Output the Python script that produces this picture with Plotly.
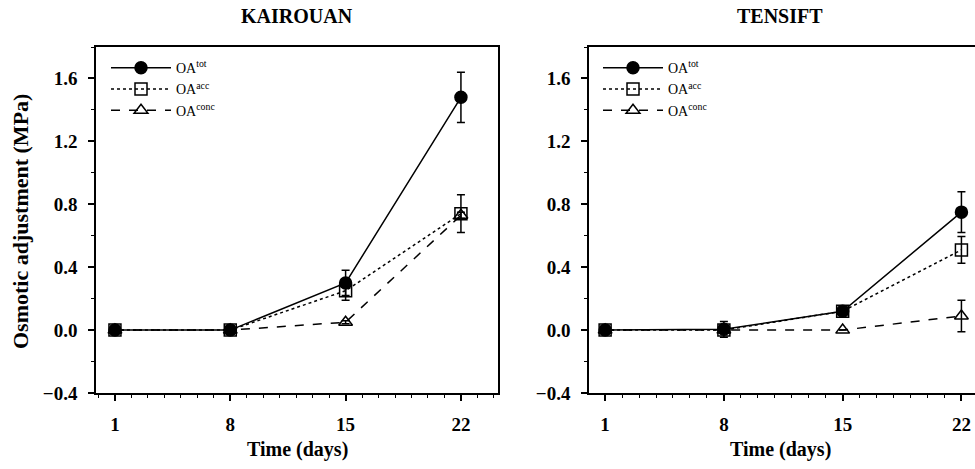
import plotly.graph_objects as go

days = [1, 8, 15, 22]
# KAIROUAN
k_tot = [0.0, 0.0, 0.30, 1.48]
k_tot_err = [0.0, 0.0, 0.08, 0.16]
k_acc = [0.0, 0.0, 0.25, 0.74]
k_acc_err = [0.0, 0.0, 0.06, 0.12]
k_conc = [0.0, 0.0, 0.05, 0.73]
k_conc_err = [0.0, 0.0, 0.01, 0.02]
# TENSIFT
t_tot = [0.0, 0.005, 0.12, 0.75]
t_tot_err = [0.0, 0.05, 0.01, 0.13]
t_acc = [0.0, 0.0, 0.12, 0.51]
t_acc_err = [0.0, 0.0, 0.0, 0.085]
t_conc = [0.0, 0.0, 0.0, 0.09]
t_conc_err = [0.0, 0.0, 0.0, 0.10]

panel_titles = ["KAIROUAN", "TENSIFT"]
series_names = ["OA<sup>tot</sup>", "OA<sup>acc</sup>", "OA<sup>conc</sup>"]
y_ticks = [-0.4, 0.0, 0.4, 0.8, 1.2, 1.6]

FONT = "Liberation Serif"
fig = go.Figure()

styles = [
    dict(dash="solid", symbol="circle", size=12),
    dict(dash="dot", symbol="square-open", size=12),
    dict(dash="dash", symbol="triangle-up-open", size=12),
]

panels = [
    ("x", "y", "legend", [(k_tot, k_tot_err), (k_acc, k_acc_err), (k_conc, k_conc_err)]),
    ("x2", "y2", "legend2", [(t_tot, t_tot_err), (t_acc, t_acc_err), (t_conc, t_conc_err)]),
]

for xa, ya, lg, data in panels:
    for (vals, errs), name, st in zip(data, series_names, styles):
        fig.add_trace(go.Scatter(
            x=days, y=vals, name=name, xaxis=xa, yaxis=ya, legend=lg,
            mode="lines+markers",
            line=dict(color="black", width=1.5, dash=st["dash"]),
            marker=dict(symbol=st["symbol"], size=st["size"], color="black",
                        line=dict(color="black", width=1.5)),
            error_y=dict(type="data", array=errs, color="black", thickness=1.5, width=4),
        ))

axis_common = dict(
    showline=True, linecolor="black", linewidth=1.5, showgrid=False, zeroline=False,
    ticks="outside", ticklen=6, tickwidth=1.5, tickcolor="black",
    tickfont=dict(family=FONT, size=19, color="black", weight="bold"),
)
minor_x = dict(dtick=1, tick0=0, ticks="outside", ticklen=3, tickcolor="black", tickwidth=1)
minor_y = dict(dtick=0.2, tick0=0, ticks="outside", ticklen=3, tickcolor="black", tickwidth=1)

fig.update_layout(
    width=975, height=469,
    margin=dict(l=0, r=0, t=47, b=76),
    paper_bgcolor="white", plot_bgcolor="white",
    showlegend=True,
    xaxis=dict(domain=[96/975, 498/975], range=[-0.15, 24.25], tickvals=days,
               mirror=True, minor=minor_x, ticklabelstandoff=7, **axis_common),
    yaxis=dict(domain=[0, 1], range=[-0.4, 1.8], tickvals=y_ticks, tickformat=".1f",
               mirror=True, minor=minor_y, ticklabelstandoff=7, **axis_common),
    xaxis2=dict(domain=[589/975, 1.0], range=[0.05, 22.8], tickvals=days, anchor="y2",
                mirror=True, minor=minor_x, ticklabelstandoff=7, **axis_common),
    yaxis2=dict(domain=[0, 1], range=[-0.4, 1.8], tickvals=y_ticks, tickformat=".1f", anchor="x2",
                minor=minor_y, ticklabelstandoff=7, **axis_common),
    legend=dict(x=106/975, y=0.985, xanchor="left", yanchor="top", bgcolor="rgba(0,0,0,0)",
                font=dict(family=FONT, size=14, color="black"), itemwidth=60, tracegroupgap=0),
    legend2=dict(x=598/975, y=0.985, xanchor="left", yanchor="top", bgcolor="rgba(0,0,0,0)",
                 font=dict(family=FONT, size=14, color="black"), itemwidth=60, tracegroupgap=0),
    font=dict(family=FONT, color="black"),
)

plot_h = 469 - 47 - 76
def py(pix):
    return (469 - 76 - pix) / plot_h

for a, xp in zip(panel_titles, [297, 780]):
    fig.add_annotation(text="<b>%s</b>" % a, x=xp/975, y=py(16), xref="paper", yref="paper",
                       yanchor="middle", xanchor="center", showarrow=False,
                       font=dict(family=FONT, size=20, color="black"))
for xp in [297, 780]:
    fig.add_annotation(text="<b>Time (days)</b>", x=xp/975, y=py(449), xref="paper", yref="paper",
                       yanchor="middle", xanchor="center", showarrow=False,
                       font=dict(family=FONT, size=20, color="black"))
fig.add_annotation(text="<b>Osmotic adjustment (MPa)</b>", x=20/975, y=py(222), xref="paper", yref="paper",
                   yanchor="middle", xanchor="center", showarrow=False, textangle=-90,
                   font=dict(family=FONT, size=22, color="black"))

fig.write_html("out.html")
